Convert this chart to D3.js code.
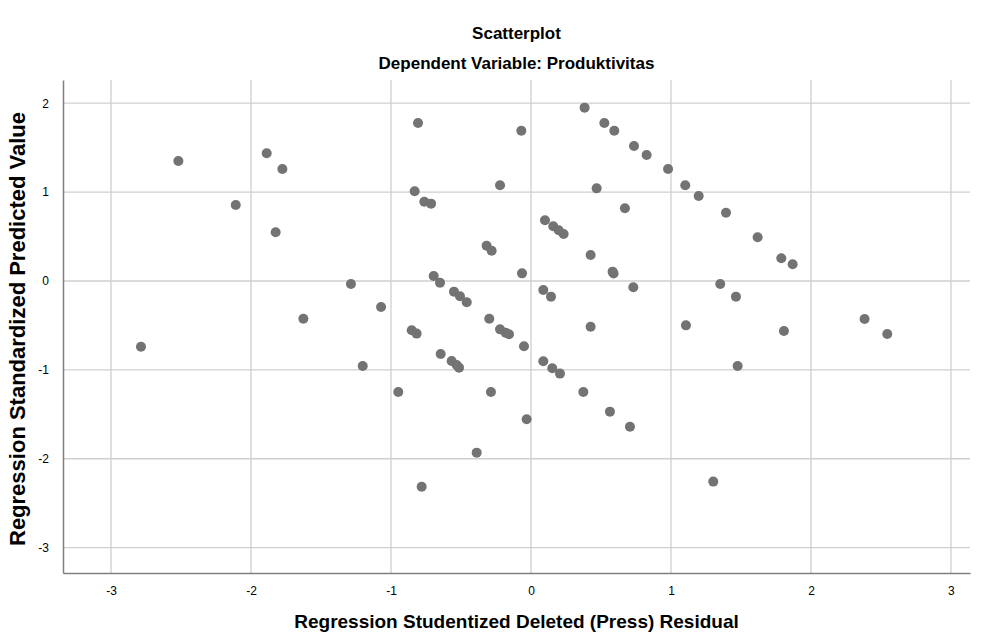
<!doctype html>
<html>
    <head>
        <meta charset="utf-8">
        <title>Scatterplot</title>
        <!-- Load d3.js -->
        <script src="https://d3js.org/d3.v7.min.js"></script>
        <style>
            body { margin: 0; background: #fff; }
            text { font-family: "Liberation Sans", Arial, sans-serif; fill: #000; }
        </style>
    </head>
    <body>

        <!-- Create a div where the graph will take place -->
        <div id="my_dataviz"></div>

        <script>

            // residuals (x) and predicted values (y)
            var residual = [-2.519, -1.888, -1.776, -2.109, -1.824, -1.286, -1.626, -2.786, -1.202,
                -0.807, -0.069, 0.383, 0.524, 0.595, 0.736, 0.826, 0.979, 1.102, -0.221,
                0.469, -0.831, -0.762, -0.714, 0.671, 0.100, 0.159, 0.198, 0.233, -0.317,
                -0.281, 0.426, 0.583, 0.590, -0.064, -0.695, -0.650, 0.731, 0.088, 0.143,
                -0.550, -0.507, -0.459, -1.071, -0.298, 1.198, 1.393, 1.619, 1.788, 1.869,
                1.352, 1.464, 1.107, 2.383, 1.807, 2.545, 1.476, 1.302, -0.221, -0.181,
                -0.157, -0.852, -0.817, 0.426, -0.050, -0.645, -0.567, -0.531, -0.514,
                0.088, 0.152, 0.207, -0.948, -0.286, 0.374, 0.564, 0.707, -0.031, -0.388, -0.781];

            var predicted = [1.350, 1.436, 1.260, 0.855, 0.548, -0.034, -0.424, -0.739, -0.956,
                1.777, 1.691, 1.950, 1.777, 1.691, 1.519, 1.417, 1.260, 1.076, 1.076,
                1.042, 1.009, 0.892, 0.870, 0.818, 0.683, 0.615, 0.570, 0.529, 0.397,
                0.341, 0.292, 0.105, 0.085, 0.086, 0.056, -0.019, -0.071, -0.101, -0.176,
                -0.120, -0.172, -0.240, -0.292, -0.424, 0.956, 0.768, 0.492, 0.255, 0.188,
                -0.034, -0.176, -0.499, -0.427, -0.562, -0.596, -0.956, -2.257, -0.544, -0.581,
                -0.600, -0.555, -0.592, -0.514, -0.735, -0.821, -0.900, -0.945, -0.975,
                -0.903, -0.982, -1.042, -1.249, -1.249, -1.249, -1.470, -1.639, -1.556, -1.931, -2.314];

            var xTicks = [-3, -2, -1, 0, 1, 2, 3];
            var yTicks = [-3, -2, -1, 0, 1, 2];

            var data = residual.map(function(d, i) { return {x: d, y: predicted[i]}; });

            // set the dimensions and margins of the graph
            var margin = {top: 80, right: 15, bottom: 65, left: 63},
                width = 985 - margin.left - margin.right,
                height = 638 - margin.top - margin.bottom;

            var svg = d3.select("#my_dataviz")
              .append("svg")
                .attr("width", 985)
                .attr("height", 638)
              .append("g")
                .attr("transform", "translate(" + margin.left + "," + margin.top + ")");

            // scales
            var x = d3.scaleLinear()
                .domain([-3.343, 3.136])
                .range([0, width]);
            var y = d3.scaleLinear()
                .domain([-3.285, 2.261])
                .range([height, 0]);

            // SPSS writes plain hyphens for negatives
            var fmt = function(d) { return String(d); };

            // grid lines
            svg.append("g")
                .selectAll("line.vgrid")
                .data(xTicks)
                .enter()
                .append("line")
                    .attr("x1", function(d) { return x(d); })
                    .attr("x2", function(d) { return x(d); })
                    .attr("y1", 0)
                    .attr("y2", height)
                    .style("stroke", "#cfcfcf")
                    .style("stroke-width", 1.3);

            svg.append("g")
                .selectAll("line.hgrid")
                .data(yTicks)
                .enter()
                .append("line")
                    .attr("x1", 0)
                    .attr("x2", width)
                    .attr("y1", function(d) { return y(d); })
                    .attr("y2", function(d) { return y(d); })
                    .style("stroke", "#cfcfcf")
                    .style("stroke-width", 1.3);

            // X axis
            var xAxis = svg.append("g")
                .attr("transform", "translate(0," + height + ")")
                .call(d3.axisBottom(x).tickValues(xTicks).tickSize(0).tickPadding(13).tickFormat(fmt));
            xAxis.select(".domain").style("stroke", "#808080").style("stroke-width", 1.5);

            // Y axis
            var yAxis = svg.append("g")
                .call(d3.axisLeft(y).tickValues(yTicks).tickSize(0).tickPadding(14).tickFormat(fmt));
            yAxis.select(".domain").style("stroke", "#808080").style("stroke-width", 1.5);

            svg.selectAll(".tick text")
                .style("font-family", "'Liberation Sans', Arial, sans-serif")
                .style("font-size", "12px")
                .style("fill", "#000");

            // points
            svg.append("g")
                .selectAll("circle")
                .data(data)
                .enter()
                .append("circle")
                    .attr("cx", function(d) { return x(d.x); })
                    .attr("cy", function(d) { return y(d.y); })
                    .attr("r", 5)
                    .style("fill", "#737373");

            // titles
            svg.append("text")
                .attr("text-anchor", "middle")
                .attr("x", width / 2)
                .attr("y", -41)
                .style("font-size", "17px")
                .style("font-weight", "bold")
                .text("Scatterplot");

            svg.append("text")
                .attr("text-anchor", "middle")
                .attr("x", width / 2)
                .attr("y", -11)
                .style("font-size", "17px")
                .style("font-weight", "bold")
                .text("Dependent Variable: Produktivitas");

            // axis labels
            svg.append("text")
                .attr("text-anchor", "middle")
                .attr("x", width / 2)
                .attr("y", height + 55)
                .style("font-size", "19px")
                .style("font-weight", "bold")
                .text("Regression Studentized Deleted (Press) Residual");

            svg.append("text")
                .attr("text-anchor", "middle")
                .attr("transform", "rotate(-90)")
                .attr("x", -(y(0) + 48))
                .attr("y", -38)
                .style("font-size", "22px")
                .style("font-weight", "bold")
                .text("Regression Standardized Predicted Value");

        </script>
    </body>
</html>
